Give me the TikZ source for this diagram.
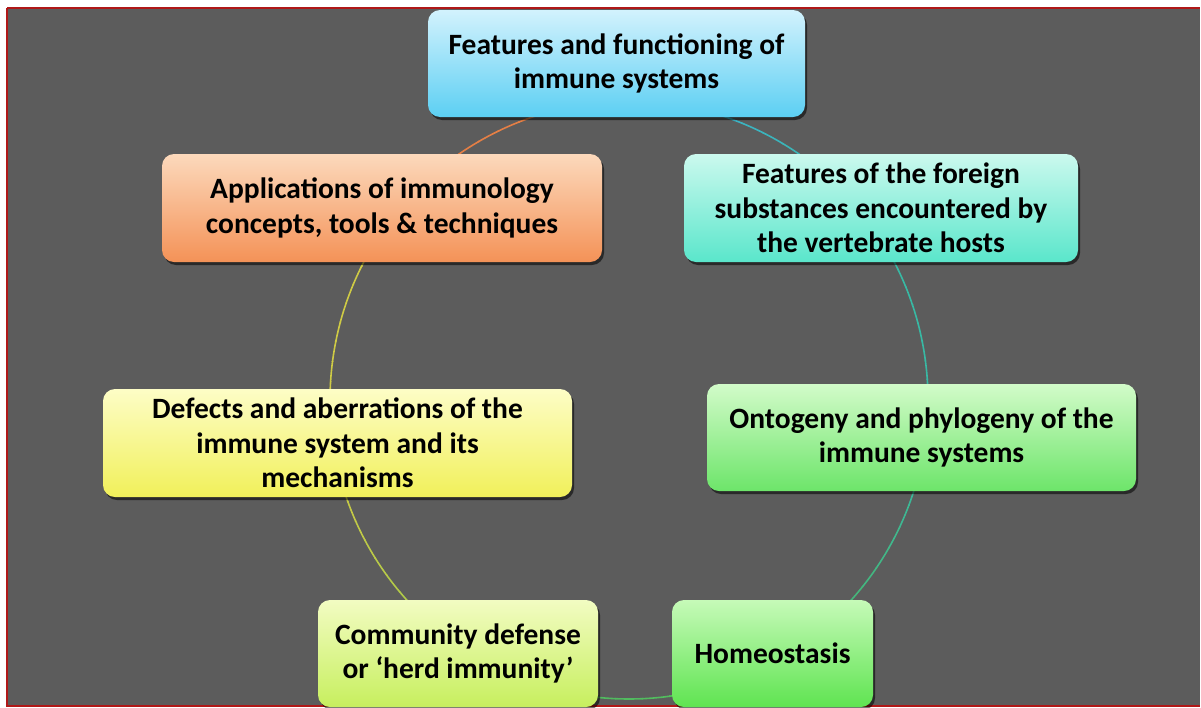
\documentclass[tikz,border=0pt]{standalone}
\usepackage{fontspec}
\setmainfont{Carlito}
\usetikzlibrary{shadows}
\definecolor{panel}{HTML}{5C5C5C}
\definecolor{frame}{HTML}{B01818}
% fill pairs (top, bottom) and ring colours
\definecolor{blueT}{HTML}{D2F2FD}\definecolor{blueB}{HTML}{5CCFF3}\definecolor{blueL}{HTML}{3FAFD8}
\definecolor{orngT}{HTML}{FCD9BC}\definecolor{orngB}{HTML}{F49257}\definecolor{orngL}{HTML}{E57F45}
\definecolor{cyanT}{HTML}{CBF9EE}\definecolor{cyanB}{HTML}{5AE6CB}\definecolor{cyanL}{HTML}{38B9A4}
\definecolor{grnT}{HTML}{D2FBC9}\definecolor{grnB}{HTML}{6DE56A}\definecolor{grnL}{HTML}{4DB564}
\definecolor{yelT}{HTML}{FDFDC6}\definecolor{yelB}{HTML}{F1F05A}\definecolor{yelL}{HTML}{CFCB45}
\definecolor{limeT}{HTML}{F2FCC2}\definecolor{limeB}{HTML}{C7EF5E}\definecolor{limeL}{HTML}{A5C94A}
\definecolor{homT}{HTML}{C6FAB8}\definecolor{homB}{HTML}{5FE451}\definecolor{homL}{HTML}{55C05A}
\tikzset{
  topic/.style={rounded corners=12pt, align=center, inner sep=4pt,
    font=\fontsize{29.5}{34.5}\selectfont\bfseries, text=black,
    drop shadow={shadow xshift=2pt, shadow yshift=-3pt, opacity=0.55, fill=black}},
  ring/.style={line width=1.6pt}
}
\begin{document}
\begin{tikzpicture}[x=1pt,y=-1pt]
  \useasboundingbox (0,0) rectangle (1201,707);
  \fill[white] (0,0) rectangle (1201,707);
  \fill[panel] (7,8) rectangle (1200,706);
  \draw[frame, line width=1.6pt] (7,8) -- (1200,8);
  \draw[frame, line width=1.6pt] (7,8) -- (7,706) -- (1200,706);

  \coordinate (c) at (629,400);
  % ring segments between neighbouring topics, shaded from one colour to the next
  \foreach \a/\b/\ca/\cb in {218/270/orngL/orngL, 270/323/blueL/cyanL, 323/367/cyanL/cyanL,
      7/61/cyanL/grnL, 61/124/homL/grnL, 124/172/limeL/yelL, 172/218/yelL/yelL}{
    \foreach \i in {0,...,11}{
      \pgfmathsetmacro{\s}{\a+(\b-\a)*\i/12}
      \pgfmathsetmacro{\e}{\a+(\b-\a)*(\i+1.05)/12}
      \pgfmathsetmacro{\m}{100-100*\i/11}
      \draw[ring, color=\ca!\m!\cb] ([shift={(\s:299)}]c) arc[start angle=\s, end angle=\e, radius=299];
    }
  }

  \node[topic, top color=blueT, bottom color=blueB, minimum width=377pt, minimum height=107pt]
    (features) at (616.5,63.5) {Features and functioning of\\immune systems};
  \node[topic, top color=orngT, bottom color=orngB, minimum width=440pt, minimum height=108pt]
    (applications) at (382,208) {Applications of immunology\\concepts, tools \& techniques};
  \node[topic, top color=cyanT, bottom color=cyanB, minimum width=394pt, minimum height=108pt]
    (foreign) at (881,208) {Features of the foreign\\substances encountered by\\the vertebrate hosts};
  \node[topic, top color=grnT, bottom color=grnB, minimum width=429pt, minimum height=107pt]
    (ontogeny) at (921.5,437.5) {Ontogeny and phylogeny of the\\immune systems};
  \node[topic, top color=yelT, bottom color=yelB, minimum width=469pt, minimum height=108pt]
    (defects) at (337.5,443) {Defects and aberrations of the\\immune system and its\\mechanisms};
  \node[topic, top color=limeT, bottom color=limeB, minimum width=280pt, minimum height=107pt]
    (community) at (458,653.5) {Community defense\\or `herd immunity'};
  \node[topic, top color=homT, bottom color=homB, minimum width=201pt, minimum height=107pt]
    (homeostasis) at (772.5,653.5) {Homeostasis};
\end{tikzpicture}
\end{document}
